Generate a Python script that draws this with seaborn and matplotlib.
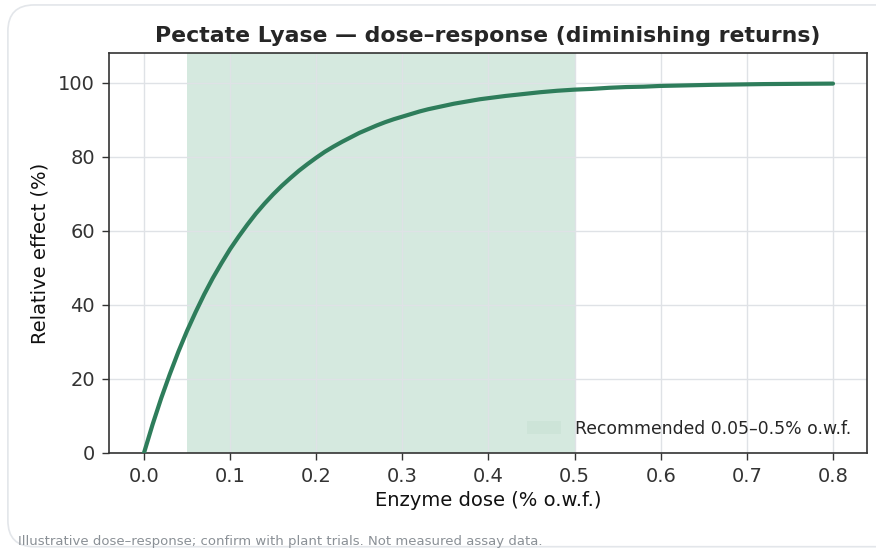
import matplotlib
matplotlib.use("Agg")
import matplotlib.pyplot as plt
from matplotlib.patches import FancyBboxPatch, Patch
import seaborn as sns
import pandas as pd

dose = [0.00, 0.01, 0.02, 0.03, 0.04, 0.05, 0.06, 0.07, 0.08, 0.09, 0.10,
        0.11, 0.12, 0.13, 0.14, 0.15, 0.16, 0.17, 0.18, 0.19, 0.20,
        0.21, 0.22, 0.23, 0.24, 0.25, 0.26, 0.27, 0.28, 0.29, 0.30,
        0.31, 0.32, 0.33, 0.34, 0.35, 0.36, 0.37, 0.38, 0.39, 0.40,
        0.42, 0.44, 0.46, 0.48, 0.50, 0.52, 0.54, 0.56, 0.58, 0.60,
        0.63, 0.66, 0.69, 0.72, 0.76, 0.80]
effect = [0.0, 7.7, 14.8, 21.3, 27.4, 33.0, 38.1, 42.9, 47.3, 51.3, 55.1,
          58.5, 61.7, 64.7, 67.4, 69.9, 72.2, 74.3, 76.3, 78.1, 79.8,
          81.4, 82.8, 84.1, 85.3, 86.5, 87.5, 88.5, 89.4, 90.2, 90.9,
          91.6, 92.3, 92.9, 93.4, 93.9, 94.4, 94.8, 95.2, 95.6, 95.9,
          96.5, 97.0, 97.5, 97.9, 98.2, 98.4, 98.7, 98.9, 99.0, 99.2,
          99.35, 99.5, 99.6, 99.7, 99.77, 99.83]
rec_low, rec_high = 0.05, 0.5
xticks = [0.0, 0.1, 0.2, 0.3, 0.4, 0.5, 0.6, 0.7, 0.8]
yticks = [0, 20, 40, 60, 80, 100]

sns.set_theme(style="whitegrid")
plt.rcParams['font.family'] = ['DejaVu Sans']

fig = plt.figure(figsize=(8.76, 5.5), dpi=100)
card = FancyBboxPatch((0.009, 0.006), 1.2, 0.985, boxstyle="round,pad=0,rounding_size=0.03",
                      transform=fig.transFigure, facecolor="white", edgecolor="#e3e6ea",
                      linewidth=1.2, zorder=-10, mutation_aspect=876/550)
fig.patches.append(card)

ax = fig.add_axes([109/876, 1 - 453/550, (867 - 109)/876, (453 - 53)/550])
ax.set_facecolor("white")

span_color = "#d5e9df"
ax.axvspan(rec_low, rec_high, color=span_color, lw=0, zorder=0)
df = pd.DataFrame({"dose": dose, "effect": effect})
sns.lineplot(data=df, x="dose", y="effect", ax=ax, color="#2e7d5b", linewidth=3,
             zorder=3, solid_joinstyle="round", solid_capstyle="round")

ax.set_xlim(-0.0406, 0.8395)
ax.set_ylim(0, 108.1)
ax.set_xticks(xticks)
ax.set_yticks(yticks)
ax.grid(True, color="#dfe2e6", linewidth=1.0)
ax.set_axisbelow(True)
for s in ax.spines.values():
    s.set_visible(True)
    s.set_color("#333333")
    s.set_linewidth(1.2)
ax.tick_params(axis="both", which="major", length=5, width=1, color="#333333",
               labelsize=14, labelcolor="#333333", bottom=True, left=True, pad=5)

ax.set_xlabel("Enzyme dose (% o.w.f.)", fontsize=14, color="#111111", labelpad=4)
ax.set_ylabel("Relative effect (%)", fontsize=14, color="#111111", labelpad=6)
ax.set_title("Pectate Lyase \u2014 dose\u2013response (diminishing returns)",
             fontsize=15.8, fontweight="bold", pad=8)

handle = Patch(facecolor="#cde4d8", edgecolor="none")
ax.legend([handle], ["Recommended 0.05\u20130.5% o.w.f."], loc="lower right",
          frameon=False, fontsize=12.4, handlelength=2.0, handleheight=0.7,
          borderaxespad=0.5, handletextpad=0.8)

fig.text(18/876, 1 - 541/550,
         "Illustrative dose\u2013response; confirm with plant trials. Not measured assay data.",
         fontsize=9.5, color="#8a9096", ha="left", va="center")

fig.savefig("out.png", dpi=100, facecolor="white")
